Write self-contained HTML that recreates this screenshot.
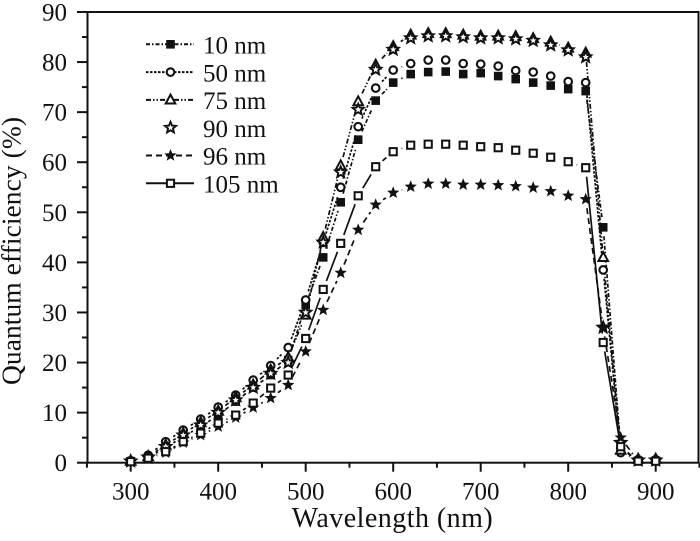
<!DOCTYPE html>
<html><head><meta charset="utf-8"><style>
html,body{margin:0;padding:0;background:#fff;}
svg{display:block;}
text{font-family:"Liberation Serif","Times New Roman",serif;fill:#111;}
</style></head><body>
<svg id="s" width="700" height="541" viewBox="0 0 700 541" xmlns="http://www.w3.org/2000/svg">
<rect width="700" height="541" fill="#fff"/>
<g id="axes" stroke="#111" stroke-width="2" fill="none">
<rect x="87.5" y="12" width="611" height="450.7"/>
</g>
<g id="ticks" stroke="#111" stroke-width="2"></g>
<g font-size="25" text-anchor="middle">
<text x="130.7" y="499.5">300</text>
<text x="218.2" y="499.5">400</text>
<text x="305.7" y="499.5">500</text>
<text x="393.2" y="499.5">600</text>
<text x="480.7" y="499.5">700</text>
<text x="568.2" y="499.5">800</text>
<text x="655.7" y="499.5">900</text>
</g>
<g font-size="25" text-anchor="end">
<text x="67" y="471.2">0</text>
<text x="67" y="421.1">10</text>
<text x="67" y="371.0">20</text>
<text x="67" y="321.0">30</text>
<text x="67" y="270.9">40</text>
<text x="67" y="220.8">50</text>
<text x="67" y="170.7">60</text>
<text x="67" y="120.6">70</text>
<text x="67" y="70.6">80</text>
<text x="67" y="20.5">90</text>
</g>
<text x="291.7" y="527" font-size="28" textLength="201" lengthAdjust="spacing">Wavelength (nm)</text>
<text transform="translate(20.5,251) rotate(-90)" x="0" y="0" font-size="27.5" text-anchor="middle" textLength="268" lengthAdjust="spacing">Quantum efficiency (%)</text>
<g id="data"></g>
<g id="legend"></g>
<g font-size="25">
<text x="203" y="53.5">10 nm</text>
<text x="203" y="81.3">50 nm</text>
<text x="203" y="109.1">75 nm</text>
<text x="203" y="136.9">90 nm</text>
<text x="203" y="164.7">96 nm</text>
<text x="203" y="192.5">105 nm</text>
</g>
</svg>
<script>
(function(){
var NS="http://www.w3.org/2000/svg";
function el(tag,attrs,parent){var e=document.createElementNS(NS,tag);for(var k in attrs)e.setAttribute(k,attrs[k]);parent.appendChild(e);return e;}
var X=function(w){return 130.7+(w-300)*0.875;};
var Y=function(v){return 462.7-v*5.008;};
var tk=document.getElementById('ticks');
// x ticks
for(var w=250;w<=950;w+=50){
  var x=X(w); var major=(w%100===0);
  el('line',{x1:x,y1:462.7,x2:x,y2:462.7+(major?9:5)},tk);
}
// y ticks
for(var v=0;v<=90;v+=5){
  var y=Y(v); var major=(v%10===0);
  el('line',{x1:87.5-(major?10.5:5.5),y1:y,x2:87.5,y2:y},tk);
}
var W=[];for(var i=300;i<=900;i+=20)W.push(i);
var series=[
 {name:'10',dash:'4,2,1.5,2',mk:'fsq',d:[0.3,1.0,3.0,5.2,7.2,9.5,12.2,15,17.5,20.5,31.5,41,52,64.5,72.3,75.9,77.6,78,78.1,77.6,77.8,77.2,76.6,75.9,75.3,74.6,74.2,47,3,0.3,0.3]},
 {name:'50',dash:'2.5,1.5',mk:'circ',d:[0.4,1.5,4.2,6.5,8.7,11.1,13.5,16.5,19.4,23,32.5,44,55,67.1,74.8,78.4,79.7,80.4,80.4,79.7,79.6,79.2,78.3,78,77.2,76.1,75.9,38.5,2,0.6,0.6]},
 {name:'75',dash:'5,2,1.5,2,1.5,2',mk:'tri',d:[0.3,1.2,3.5,5.8,8,10.3,13,15.5,18.5,21,29.5,45,59.3,72.1,79.4,83.1,85.4,85.7,85.7,85.4,85.2,85.2,85.1,84.7,84,82.8,81.8,41,2.5,0.7,0.7]},
 {name:'90',dash:null,mk:'ostar',d:[0.3,1.1,3.2,5.5,7.5,10,12.5,15,17.8,20,30,44,58,70.5,78.5,82.5,84.8,85.2,85.2,85,84.8,84.8,84.6,84.3,83.4,82.4,81,27,4,0.5,0.5]},
 {name:'96',dash:'6,4',mk:'fstar',d:[0.2,0.8,2.0,4.0,5.5,7.2,9,11,12.9,15.5,22.2,30.5,37.9,46.5,51.5,53.9,55.1,55.7,55.7,55.5,55.5,55.4,55.2,54.9,54.2,53.3,52.6,27,5,0.3,0.3]},
 {name:'105',dash:'',mk:'osq',d:[0.2,0.9,2.2,4.2,5.9,7.9,9.5,11.9,14.9,17.5,24.8,34.6,43.8,53.3,59.1,62.1,63.4,63.6,63.6,63.4,63.1,62.9,62.4,61.8,61,60.1,58.9,24,3.2,0.3,0.3]}
];
function starPts(cx,cy,R,r){var p=[];for(var i=0;i<10;i++){var a=-Math.PI/2+i*Math.PI/5;var rr=(i%2===0)?R:r;p.push((cx+rr*Math.cos(a)).toFixed(2)+','+(cy+rr*Math.sin(a)).toFixed(2));}return p.join(' ');}
function marker(type,x,y,g){
  if(type==='fsq') el('rect',{x:x-4.3,y:y-4.3,width:8.6,height:8.6,fill:'#111'},g);
  else if(type==='osq') el('rect',{x:x-3.6,y:y-3.6,width:7.2,height:7.2,fill:'#fff',stroke:'#111','stroke-width':2},g);
  else if(type==='circ') el('circle',{cx:x,cy:y,r:3.8,fill:'#fff',stroke:'#111','stroke-width':2.1},g);
  else if(type==='tri') el('polygon',{points:(x)+','+(y-5.3)+' '+(x+4.8)+','+(y+3.6)+' '+(x-4.8)+','+(y+3.6),fill:'#fff',stroke:'#111','stroke-width':2},g);
  else if(type==='ostar') el('polygon',{points:starPts(x,y,5.8,2.6),fill:'#fff',stroke:'#111','stroke-width':1.9,'stroke-linejoin':'miter'},g);
  else if(type==='fstar') el('polygon',{points:starPts(x,y,6.5,2.8),fill:'#111'},g);
}
var dg=document.getElementById('data');
var GAP=9;
series.forEach(function(s){
  var g=el('g',{},dg);
  if(s.dash!==null){
    for(var i=0;i<s.d.length-1;i++){
      var x1=X(W[i]),y1=Y(s.d[i]),x2=X(W[i+1]),y2=Y(s.d[i+1]);
      var dx=x2-x1,dy=y2-y1,L=Math.sqrt(dx*dx+dy*dy);
      if(L<=2*GAP+0.5)continue;
      var ux=dx/L,uy=dy/L;
      var a={x1:x1+ux*GAP,y1:y1+uy*GAP,x2:x2-ux*GAP,y2:y2-uy*GAP,stroke:'#111','stroke-width':1.7};
      if(s.dash)a['stroke-dasharray']=s.dash;
      el('line',a,g);
    }
  }
});
series.forEach(function(s){
  var g=el('g',{},dg);
  for(var i=0;i<s.d.length;i++) marker(s.mk,X(W[i]),Y(s.d[i]),g);
});
var lg=document.getElementById('legend');
var ly=[44.3,72.1,99.9,127.7,155.5,183.3];
series.forEach(function(s,i){
  var y=ly[i];
  if(s.dash!==null){
    var a={x1:146,y1:y,x2:194,y2:y,stroke:'#111','stroke-width':2};
    if(s.dash)a['stroke-dasharray']=s.dash;
    el('line',a,lg);
  }
  marker(s.mk,170.5,y,lg);
});
})();
</script>
</body></html>
